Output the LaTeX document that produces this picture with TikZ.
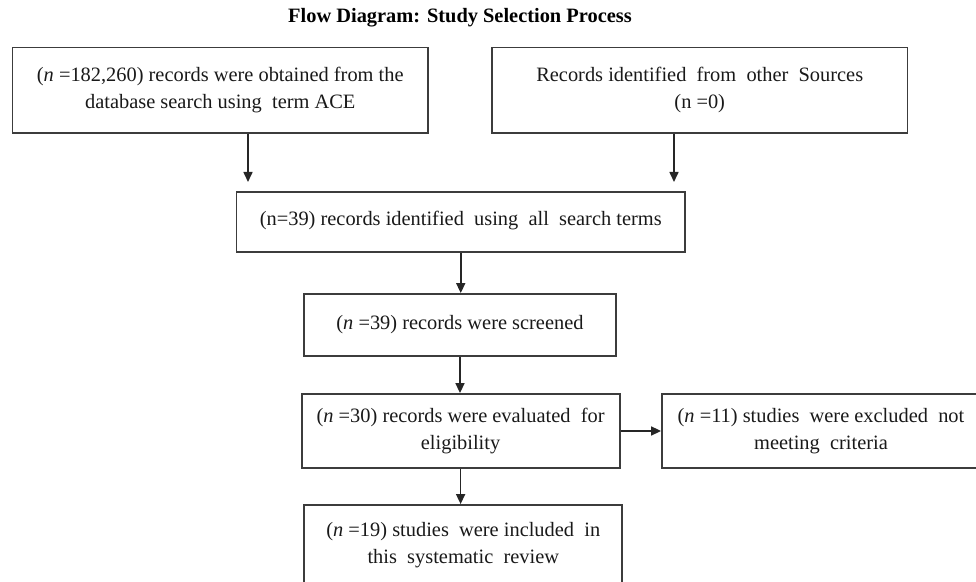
\documentclass[tikz,border=0pt]{standalone}
\usepackage{fontspec}
\setmainfont{Liberation Serif}
\usepackage{tikz}
\usetikzlibrary{positioning, arrows.meta, calc}
\definecolor{boxline}{RGB}{60, 60, 60}

\begin{document}
\begin{tikzpicture}[x=0.5pt, y=-0.5pt, font=\fontsize{10.2}{13.5}\selectfont,
      >={Triangle[length=5pt, width=4.5pt]},
      box/.style={draw=boxline, line width=0.9pt, align=center, inner sep=0pt, text=black!90},
      wide/.style={box, minimum width=207.75pt, minimum height=42.75pt},
      mid/.style={box, minimum width=159pt, minimum height=37pt},
      link/.style={->, line width=0.8pt, draw=black!85}]
    \useasboundingbox (0,0) rectangle (976,582);
    \clip (0,0) rectangle (976,582);
    \node[font=\fontsize{10.2}{12}\selectfont\bfseries] (ttl) at (460,18) {Flow Diagram: Study Selection Process};
    \node[wide] (rec) at (220.25,90.25) {(\textit{n} =182,260) records were obtained from the\\ database search using\ \ term ACE};
    \node[wide] (oth) at (699.75,90.25) {Records identified\ \ from\ \ other\ \ Sources\\ (n =0)};
    \node[box, minimum width=224.25pt, minimum height=30pt] (ids) at (460.75,222)
      {\raisebox{4pt}{(n=39) records identified\ \ using\ \ all\ \ search terms}};
    \node[box, minimum width=156pt, minimum height=31pt] (scr) at (460,325) {(\textit{n} =39) records were screened};
    \node[mid] (elig) at (460.6,431) {(\textit{n} =30) records were evaluated\ \ for\\ eligibility};
    \node[mid] (excl) at (821,431) {(\textit{n} =11) studies\ \ were excluded\ \ not\\ meeting\ \ criteria};
    \node[mid, minimum height=40.5pt] (incl) at (463.3,545.5) {(\textit{n} =19) studies\ \ were included\ \ in\\ this\ \ systematic\ \ review};
    \coordinate (t1) at (248,182);
    \coordinate (t2) at (674,182);
    \draw[link] (rec.south -| t1) -- (t1);
    \draw[link] (oth.south -| t2) -- (t2);
    \draw[link] (ids.south) -- (ids.south |- scr.north);
    \draw[link] (scr.south) -- (scr.south |- elig.north);
    \draw[link] (elig.east) -- (excl.west);
    \draw[link] (elig.south) -- (elig.south |- incl.north);
  \end{tikzpicture}
\end{document}
